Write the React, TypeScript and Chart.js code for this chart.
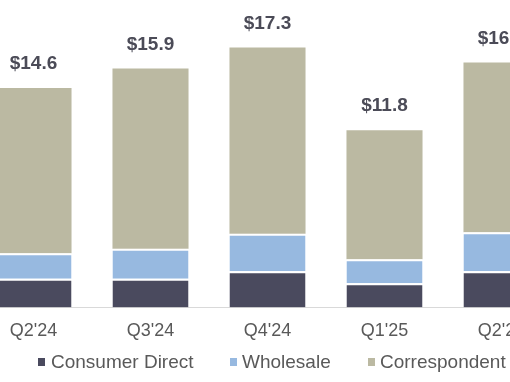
import React, { useEffect, useRef } from "react";
import { Chart, registerables } from "chart.js";

Chart.register(...registerables);

const categories = ["Q2'24", "Q3'24", "Q4'24", "Q1'25", "Q2'25"];
const consumerDirect = [1.9, 1.9, 2.4, 1.6, 2.4];
const wholesale = [1.7, 2.0, 2.5, 1.6, 2.6];
const correspondent = [11.0, 12.0, 12.4, 8.6, 11.3];
const seriesNames = ["Consumer Direct", "Wholesale", "Correspondent"];
const seriesColors = ["#4a4a5e", "#97b9e0", "#bbb9a2"];

const FONT = "'Liberation Sans', Arial, sans-serif";

const totalsPlugin = {
  id: "totals",
  afterDatasetsDraw(chart: any) {
    const { ctx } = chart;
    const meta = chart.getDatasetMeta(2);
    ctx.save();
    ctx.font = "bold 19px " + FONT;
    ctx.fillStyle = "#4b4b57";
    ctx.textAlign = "center";
    ctx.textBaseline = "middle";
    meta.data.forEach((bar: any, i: number) => {
      const total = consumerDirect[i] + wholesale[i] + correspondent[i];
      ctx.fillText("$" + total.toFixed(1), bar.x, bar.y - 24);
    });
    ctx.restore();
  },
};

export default function App() {
  const ref = useRef<HTMLCanvasElement>(null);
  useEffect(() => {
    document.documentElement.style.overflow = "hidden";
    document.body.style.overflow = "hidden";
    const seg = { top: 2, bottom: 0, left: 0, right: 0 };
    const chart = new Chart(ref.current!, {
      type: "bar",
      data: {
        labels: categories,
        datasets: [
          { label: seriesNames[0], data: consumerDirect, backgroundColor: seriesColors[0], borderColor: "#ffffff", borderWidth: seg, borderSkipped: false },
          { label: seriesNames[1], data: wholesale, backgroundColor: seriesColors[1], borderColor: "#ffffff", borderWidth: seg, borderSkipped: false },
          { label: seriesNames[2], data: correspondent, backgroundColor: seriesColors[2], borderWidth: 0 },
        ],
      },
      options: {
        animation: false,
        responsive: true,
        maintainAspectRatio: false,
        layout: { padding: { top: 7, left: 0, right: 0, bottom: 3 } },
        datasets: { bar: { categoryPercentage: 1, barPercentage: 0.65 } },
        scales: {
          x: {
            stacked: true,
            grid: { display: false },
            border: { display: true, color: "#d9d9d9", width: 1 },
            ticks: { color: "#595959", font: { size: 18, family: FONT }, padding: 5 },
          },
          y: { stacked: true, display: false, min: 0, max: 20 },
        },
        plugins: {
          legend: { display: false },
          tooltip: { enabled: false },
        },
      },
      plugins: [totalsPlugin],
    });
    return () => chart.destroy();
  }, []);

  const legendLeft = [38, 230, 368];
  return (
    <div style={{ position: "fixed", left: 0, top: 0, width: 510, height: 382, overflow: "hidden" }}>
      <div style={{ position: "absolute", left: -25, top: 0, width: 585, height: 350 }}>
        <canvas ref={ref} />
      </div>
      {seriesNames.map((name, i) => (
        <div
          key={name}
          style={{
            position: "absolute",
            left: legendLeft[i],
            top: 351,
            height: 22,
            display: "flex",
            alignItems: "center",
            whiteSpace: "nowrap",
            fontFamily: FONT,
            fontSize: 19,
            color: "#595959",
          }}
        >
          <span style={{ display: "inline-block", width: 7, height: 8, background: seriesColors[i], marginRight: i === 0 ? 6 : 5 }} />
          <span>{name}</span>
        </div>
      ))}
    </div>
  );
}
